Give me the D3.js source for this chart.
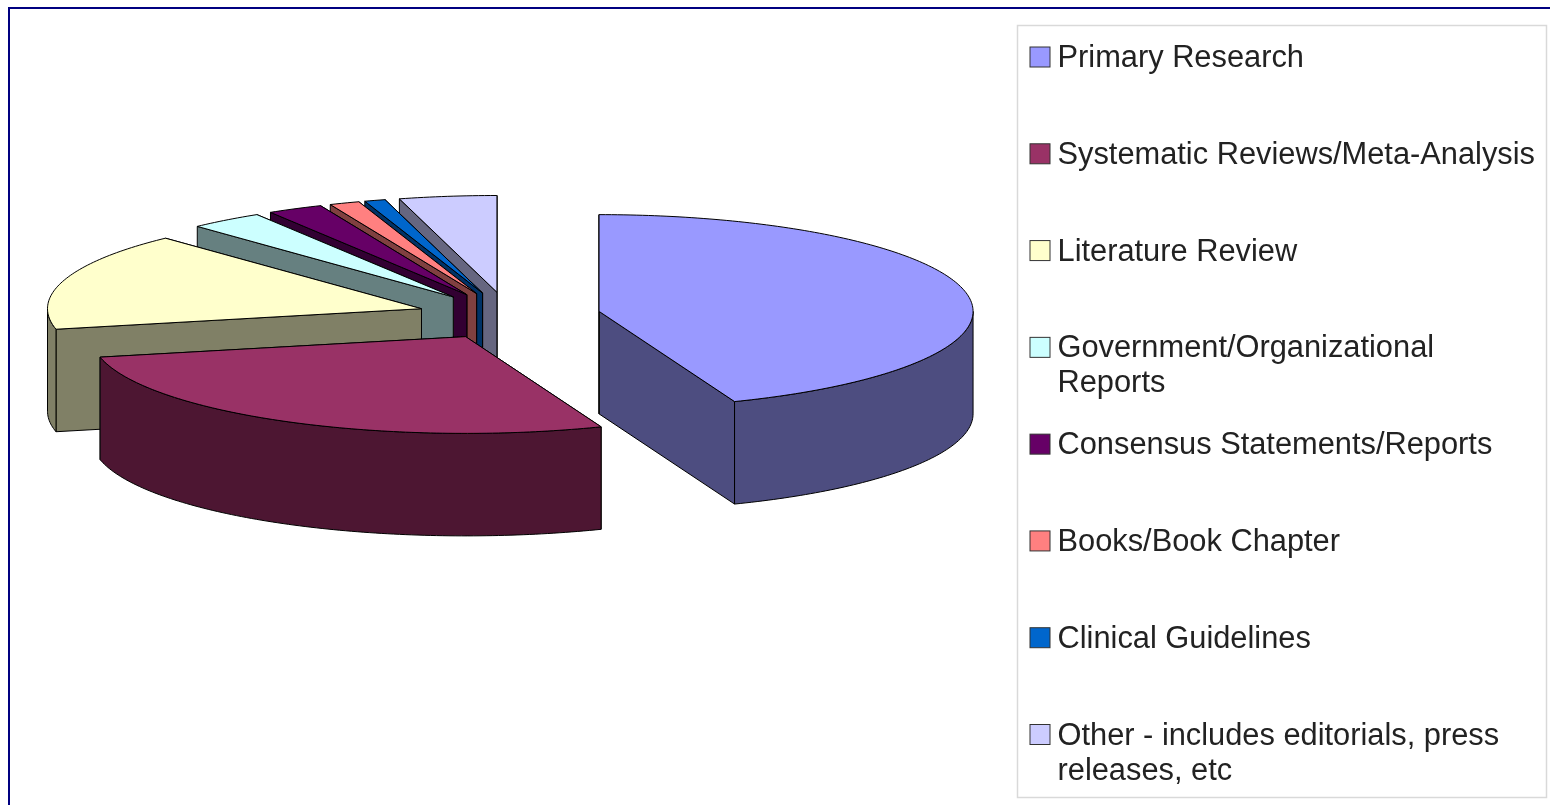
<!DOCTYPE html>
<html>
<head>
<meta charset="utf-8">
<script src="https://cdn.jsdelivr.net/npm/d3@7"></script>
<style>
    body { margin: 0; background: #fff; overflow: hidden; }
    text { font-family: "Liberation Sans", Arial, sans-serif; }
</style>
</head>
<body>
<div id="chart"></div>
<script>
// share of each publication type (percent)
const categories = [
    "Primary Research",
    "Systematic Reviews/Meta-Analysis",
    "Literature Review",
    "Government/Organizational Reports",
    "Consensus Statements/Reports",
    "Books/Book Chapter",
    "Clinical Guidelines",
    "Other - includes editorials, press releases, etc"
];
const values = [44.1, 27.5, 16.4, 3.2, 2.4, 1.3, 0.9, 4.2];
const topColors = ["#9999ff", "#993366", "#ffffcc", "#ccffff", "#660066", "#ff8080", "#0066cc", "#ccccff"];
const sideColors = ["#4d4d80", "#4d1933", "#808066", "#668080", "#330033", "#804040", "#003366", "#666680"];
// legend labels that wrap over two lines
const wrapped = {
    "Government/Organizational Reports": ["Government/Organizational", "Reports"],
    "Other - includes editorials, press releases, etc": ["Other - includes editorials, press", "releases, etc"]
};

const width = 1550, height = 805;
const explode = 0.245;

let svg = d3.select("#chart").append("svg")
    .attr("width", width)
    .attr("height", height);

// the reference is a soft, slightly blurred screenshot
let soft = svg.append("defs").append("filter").attr("id", "soft");
soft.append("feGaussianBlur").attr("stdDeviation", 0.55);

let root = svg.append("g").attr("filter", "url(#soft)");

// outer frame, runs off the right and bottom of the screenshot
root.append("rect")
    .attr("x", 9).attr("y", 8)
    .attr("width", width + 20).attr("height", height + 20)
    .attr("fill", "#fff")
    .attr("stroke", "#000080")
    .attr("stroke-width", 2);

// unit circle -> flattened pie on the page
let x = d3.scaleLinear().domain([-1, 1]).range([135, 883]);
let y = d3.scaleLinear().domain([-1, 1]).range([412.5, 219]);
const depth = 102.5;

let pie = d3.pie().sort(null).startAngle(0).endAngle(2 * Math.PI);
let slices = pie(values).map((d, i) => ({ ...d, i: i }));

let line = d3.line().x(p => p[0]).y(p => p[1]);

function point(d, angle, r, drop) {
    let mid = (d.startAngle + d.endAngle) / 2;
    let ux = explode * Math.sin(mid) + r * Math.sin(angle);
    let uy = explode * Math.cos(mid) + r * Math.cos(angle);
    return [x(ux), y(uy) + (drop || 0)];
}

function arcPoints(d, a0, a1, drop) {
    let n = Math.max(2, Math.ceil((a1 - a0) * 60));
    return d3.range(n + 1).map(k => point(d, a0 + (a1 - a0) * k / n, 1, drop));
}

function wall(d, angle) {
    return line([point(d, 0, 0), point(d, angle, 1), point(d, angle, 1, depth), point(d, 0, 0, depth)]) + "Z";
}

let g = root.append("g").attr("stroke", "#000").attr("stroke-width", 1).attr("stroke-linejoin", "round");

// painter's order: the back slices first, the front ones last
[7, 6, 5, 4, 3, 2, 1, 0].forEach(i => {
    let d = slices[i];
    let slice = g.append("g");

    slice.append("path").attr("d", wall(d, d.endAngle)).attr("fill", sideColors[i]);
    slice.append("path").attr("d", wall(d, d.startAngle)).attr("fill", sideColors[i]);

    // the rim only shows on the half that faces the viewer
    let a0 = Math.max(d.startAngle, Math.PI / 2);
    let a1 = Math.min(d.endAngle, 3 * Math.PI / 2);
    if (a1 > a0) {
        let rim = arcPoints(d, a0, a1, 0).concat(arcPoints(d, a0, a1, depth).reverse());
        slice.append("path").attr("d", line(rim) + "Z").attr("fill", sideColors[i]);
    }

    let top = [point(d, 0, 0)].concat(arcPoints(d, d.startAngle, d.endAngle, 0));
    slice.append("path").attr("d", line(top) + "Z").attr("fill", topColors[i]);
});

// legend
root.append("rect")
    .attr("x", 1017.5).attr("y", 25.5)
    .attr("width", 529).attr("height", 772)
    .attr("fill", "#fff")
    .attr("stroke", "#d9d9d9")
    .attr("stroke-width", 1.5);

let row = d3.scalePoint().domain(categories).range([57, 734.5]);

let items = root.selectAll(".legend-item")
    .data(categories)
    .enter()
    .append("g")
    .attr("class", "legend-item")
    .attr("transform", d => "translate(0," + row(d) + ")");

items.append("rect")
    .attr("x", 1030).attr("y", -10)
    .attr("width", 20).attr("height", 20)
    .attr("fill", (d, i) => topColors[i])
    .attr("stroke", "#333")
    .attr("stroke-width", 1);

items.each(function (d) {
    let lines = wrapped[d] || [d];
    d3.select(this).selectAll("text")
        .data(lines)
        .enter()
        .append("text")
        .attr("x", 1057.5)
        .attr("y", (l, k) => 10 + k * 35)
        .attr("font-size", "30.8px")
        .attr("fill", "#222")
        .text(l => l);
});
</script>
</body>
</html>
